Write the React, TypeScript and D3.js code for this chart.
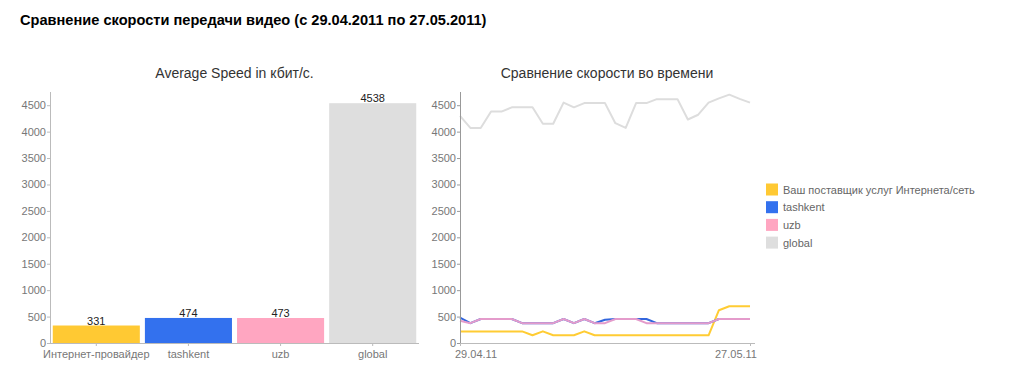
import React from "react";
import * as d3 from "d3";

const mainTitle = "Сравнение скорости передачи видео (с 29.04.2011 по 27.05.2011)";
const barTitle = "Average Speed in кбит/с.";
const lineTitle = "Сравнение скорости во времени";

const barCategories = ["Интернет-провайдер", "tashkent", "uzb", "global"];
const barValues = [331, 474, 473, 4538];
const seriesColors = ["#FFC933", "#3371EE", "#FFA6C1", "#DEDEDE"];
const lineColors = ["#FFCC33", "#3366DD", "#E49BCB", "#DDDDDD"];
const legendLabels = ["Ваш поставщик услуг Интернета/сеть", "tashkent", "uzb", "global"];
const yTicks = [0, 500, 1000, 1500, 2000, 2500, 3000, 3500, 4000, 4500];

const startDate = new Date(2011, 3, 29);
const endDate = new Date(2011, 4, 27);
const xTickLabels = ["29.04.11", "27.05.11"];

const ispSeries = [220, 220, 220, 220, 220, 220, 220, 146, 220, 146, 146, 146, 220, 146, 146, 146, 146, 146, 146, 146, 146, 146, 146, 146, 146, 620, 695, 695, 695];
const tashkentSeries = [480, 375, 455, 455, 455, 455, 375, 375, 375, 375, 455, 375, 455, 375, 440, 455, 455, 455, 455, 375, 375, 375, 375, 375, 375, 455, 455, 455, 455];
const uzbSeries = [420, 375, 455, 455, 455, 455, 375, 375, 375, 375, 455, 375, 455, 375, 375, 455, 455, 455, 375, 375, 375, 375, 375, 375, 375, 455, 455, 455, 455];
const globalSeries = [4300, 4070, 4070, 4380, 4380, 4460, 4460, 4460, 4150, 4150, 4550, 4460, 4540, 4540, 4540, 4160, 4070, 4540, 4540, 4615, 4615, 4615, 4230, 4320, 4550, 4630, 4700, 4620, 4550];

const FONT = "'Liberation Sans', Arial, sans-serif";

export default function App() {
  const W = 1011, H = 366;
  const yTop = 92, yBot = 343;
  const y = d3.scaleLinear().domain([0, 4750]).range([yBot, yTop]);

  // bar chart
  const bx0 = 50, bx1 = 419;
  const xb = d3.scaleBand<string>().domain(barCategories).range([bx0, bx1]).paddingInner(0.055).paddingOuter(0.03);

  // line chart
  const lx0 = 460, lx1 = 750;
  const dates = d3.timeDay.range(startDate, d3.timeDay.offset(endDate, 1));
  const xl = d3.scaleTime().domain([startDate, endDate]).range([lx0, lx1]);
  const allSeries = [ispSeries, tashkentSeries, uzbSeries, globalSeries];
  const line = d3.line<number>().x((_, i) => xl(dates[i])).y((v) => y(v));
  const drawOrder = [3, 0, 1, 2];

  const tickColor = "#777";
  const axisColor = "#bbb";
  const xLabelY = 358;

  return (
    <svg width={W} height={H} style={{ position: "absolute", left: 0, top: 0, background: "#fff" }} fontFamily={FONT}>
      <text x={20} y={25} fontSize={14.6} fontWeight="bold" fill="#000">{mainTitle}</text>

      {/* Bar chart */}
      <text x={(bx0 + bx1) / 2} y={78} fontSize={14} fill="#333" textAnchor="middle">{barTitle}</text>
      {barCategories.map((c, i) => (
        <g key={c}>
          <rect x={xb(c)} y={y(barValues[i])} width={xb.bandwidth()} height={yBot - y(barValues[i])} fill={seriesColors[i]} />
          <text x={(xb(c) as number) + xb.bandwidth() / 2} y={y(barValues[i]) - 1} fontSize={11} fill="#222" textAnchor="middle">{barValues[i]}</text>
          <line x1={(xb(c) as number) + xb.bandwidth() / 2} x2={(xb(c) as number) + xb.bandwidth() / 2} y1={yBot} y2={yBot + 3} stroke={axisColor} />
          <text x={(xb(c) as number) + xb.bandwidth() / 2} y={xLabelY} fontSize={11} fill={tickColor} textAnchor="middle">{c}</text>
        </g>
      ))}
      <line x1={bx0} x2={bx1} y1={yBot + 0.5} y2={yBot + 0.5} stroke={axisColor} />
      <line x1={bx0 + 0.5} x2={bx0 + 0.5} y1={yTop} y2={yBot} stroke={axisColor} />
      {yTicks.map((t) => (
        <g key={"bl" + t}>
          <line x1={bx0 - 3} x2={bx0} y1={y(t) + 0.5} y2={y(t) + 0.5} stroke={axisColor} />
          <text x={bx0 - 4} y={y(t) + 4} fontSize={11} fill={tickColor} textAnchor="end">{t}</text>
        </g>
      ))}

      {/* Line chart */}
      <text x={607} y={78} fontSize={14} fill="#333" textAnchor="middle">{lineTitle}</text>
      {drawOrder.map((si) => (
        <path key={"s" + si} d={line(allSeries[si]) as string} fill="none" stroke={lineColors[si]} strokeWidth={2} strokeLinejoin="round" />
      ))}
      <line x1={lx0} x2={lx1 + 5} y1={yBot + 0.5} y2={yBot + 0.5} stroke={axisColor} />
      <line x1={lx0 + 0.5} x2={lx0 + 0.5} y1={yTop} y2={yBot} stroke="#999" />
      {yTicks.map((t) => (
        <g key={"ll" + t}>
          <line x1={lx0 - 3} x2={lx0} y1={y(t) + 0.5} y2={y(t) + 0.5} stroke="#999" />
          <text x={lx0 - 4} y={y(t) + 4} fontSize={11} fill={tickColor} textAnchor="end">{t}</text>
        </g>
      ))}
      <line x1={lx0 + 0.5} x2={lx0 + 0.5} y1={yBot} y2={yBot + 3} stroke={axisColor} />
      <line x1={lx1 + 0.5} x2={lx1 + 0.5} y1={yBot} y2={yBot + 3} stroke={axisColor} />
      <text x={xl(startDate) - 5} y={xLabelY} fontSize={11} fill={tickColor} textAnchor="start">{xTickLabels[0]}</text>
      <text x={xl(endDate) + 7} y={xLabelY} fontSize={11} fill={tickColor} textAnchor="end">{xTickLabels[1]}</text>

      {/* Legend */}
      {legendLabels.map((l, i) => (
        <g key={l}>
          <rect x={766} y={183.5 + i * 17.7} width={12} height={12} fill={seriesColors[i]} />
          <text x={783} y={193.5 + i * 17.7} fontSize={11} fill="#666">{l}</text>
        </g>
      ))}
    </svg>
  );
}
